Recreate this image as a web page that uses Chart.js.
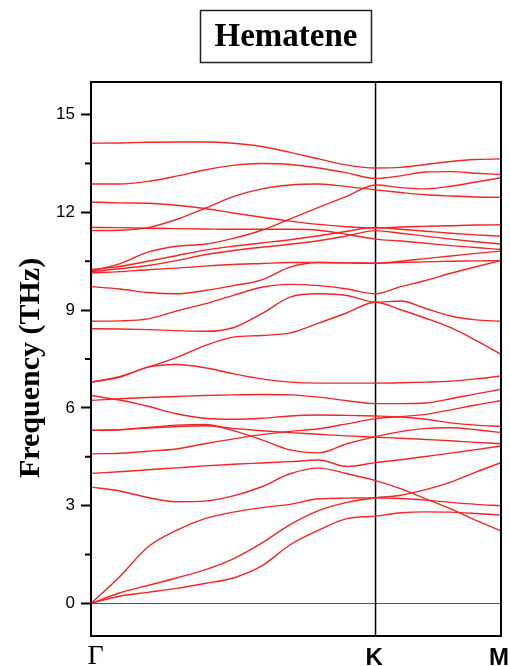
<!DOCTYPE html>
<html><head><meta charset="utf-8">
<script src="https://cdn.jsdelivr.net/npm/chart.js@4"></script>
<style>html,body{margin:0;padding:0;background:#fff;}</style>
</head><body>
<canvas id="c" width="510" height="666"></canvas>
<script>
// path coordinate of each sample (Γ = 0, K = 1, M = 1.4409)
const kDist = [0,0.1,0.2,0.3,0.4,0.5,0.6,0.7,0.8,0.9,1.0,1.0882,1.1764,1.2646,1.3527,1.4409];
const kTicks = [0, 1.0, 1.4409];
const kLabels = ['Γ','K','M'];
const yTicks = [0,3,6,9,12,15];
const yMinor = [1.5,4.5,7.5,10.5,13.5];
const chartTitle = 'Hematene';
const yTitle = 'Frequency (THz)';

// phonon branches (THz), sampled at kDist
const band01 = [14.12,14.13,14.15,14.16,14.16,14.12,14.02,13.84,13.64,13.45,13.36,13.38,13.47,13.56,13.62,13.64];
const band02 = [12.87,12.87,12.95,13.11,13.30,13.44,13.50,13.47,13.36,13.21,13.04,13.12,13.24,13.25,13.20,13.16];
const band03 = [10.20,10.42,10.78,10.96,11.02,11.20,11.45,11.80,12.15,12.50,12.84,12.76,12.72,12.80,12.93,13.06];
const band04 = [11.44,11.45,11.53,11.78,12.12,12.48,12.72,12.84,12.87,12.79,12.69,12.61,12.54,12.50,12.47,12.46];
const band05 = [12.32,12.29,12.28,12.22,12.12,11.98,11.85,11.73,11.63,11.56,11.52,11.55,11.57,11.59,11.61,11.62];
const band06 = [11.54,11.53,11.51,11.50,11.49,11.48,11.48,11.48,11.45,11.32,11.18,11.12,11.05,10.98,10.92,10.86];
const band07 = [10.24,10.34,10.50,10.67,10.84,10.96,11.06,11.16,11.28,11.42,11.54,11.48,11.42,11.36,11.31,11.27];
const band08 = [10.18,10.27,10.37,10.52,10.70,10.83,10.93,11.02,11.13,11.28,11.44,11.36,11.27,11.18,11.10,11.03];
const band09 = [10.14,10.18,10.24,10.29,10.35,10.40,10.43,10.46,10.46,10.45,10.44,10.46,10.48,10.50,10.51,10.52];
const band10 = [9.72,9.65,9.54,9.50,9.60,9.75,9.93,10.32,10.46,10.45,10.44,10.50,10.58,10.66,10.74,10.81];
const band11 = [8.66,8.67,8.73,8.97,9.19,9.45,9.70,9.79,9.75,9.65,9.50,9.72,9.91,10.13,10.33,10.52];
const band12 = [8.43,8.42,8.40,8.37,8.35,8.46,8.89,9.40,9.50,9.45,9.24,9.28,9.05,8.82,8.70,8.66];
const band13 = [6.79,6.96,7.25,7.54,7.91,8.17,8.22,8.30,8.60,8.92,9.24,9.01,8.75,8.46,8.07,7.64];
const band14 = [6.79,6.94,7.25,7.33,7.23,7.05,6.89,6.79,6.76,6.76,6.76,6.77,6.79,6.82,6.89,6.98];
const band15 = [6.23,6.28,6.32,6.35,6.38,6.40,6.41,6.40,6.33,6.22,6.13,6.13,6.15,6.28,6.43,6.57];
const band16 = [6.38,6.24,6.05,5.82,5.68,5.65,5.68,5.75,5.78,5.77,5.75,5.72,5.65,5.54,5.47,5.43];
const band17 = [4.59,4.61,4.67,4.74,4.90,5.05,5.18,5.28,5.36,5.51,5.67,5.73,5.80,5.94,6.09,6.22];
const band18 = [5.31,5.33,5.40,5.47,5.49,5.30,5.02,4.71,4.62,4.90,5.12,5.27,5.37,5.39,5.33,5.24];
const band19 = [5.31,5.33,5.38,5.43,5.45,5.37,5.30,5.24,5.19,5.14,5.10,5.07,5.03,4.99,4.94,4.90];
const band20 = [3.99,4.04,4.10,4.16,4.22,4.27,4.31,4.35,4.40,4.20,4.32,4.41,4.51,4.61,4.72,4.83];
const band21 = [3.57,3.45,3.25,3.12,3.14,3.30,3.58,3.98,4.15,3.98,3.77,3.52,3.21,2.90,2.55,2.23];
const band22 = [0,0.81,1.73,2.24,2.60,2.80,2.94,3.04,3.21,3.23,3.24,3.22,3.17,3.10,3.04,3.00];
const band23 = [0,0.32,0.55,0.78,1.03,1.37,1.85,2.42,2.85,3.10,3.24,3.32,3.49,3.72,4.03,4.32];
const band24 = [0,0.22,0.34,0.46,0.61,0.78,1.15,1.80,2.25,2.60,2.68,2.78,2.81,2.80,2.76,2.71];

const bands = [band01,band02,band03,band04,band05,band06,band07,band08,band09,band10,band11,band12,
               band13,band14,band15,band16,band17,band18,band19,band20,band21,band22,band23,band24];

const datasets = bands.map(b => ({
  data: b.map((v, i) => ({x: kDist[i], y: v})),
  borderColor: 'rgb(242,38,38)',
  borderWidth: 1.4,
  pointRadius: 0,
  fill: false,
  cubicInterpolationMode: 'monotone'
}));

const deco = {
  id: 'deco',
  beforeDatasetsDraw(chart) {
    const {ctx, chartArea: a, scales: {x, y}} = chart;
    ctx.save();
    ctx.strokeStyle = '#555';
    ctx.lineWidth = 1;
    const y0 = Math.round(y.getPixelForValue(0)) + 0.5;
    ctx.beginPath(); ctx.moveTo(a.left, y0); ctx.lineTo(a.right, y0); ctx.stroke();
    ctx.strokeStyle = '#000';
    ctx.lineWidth = 1.5;
    const xk = x.getPixelForValue(kTicks[1]);
    ctx.beginPath(); ctx.moveTo(xk, a.top); ctx.lineTo(xk, a.bottom); ctx.stroke();
    ctx.restore();
  },
  afterDraw(chart) {
    const {ctx, chartArea: a, scales: {x, y}} = chart;
    ctx.save();
    ctx.strokeStyle = '#000';
    ctx.lineWidth = 2;
    ctx.strokeRect(a.left, a.top, a.right - a.left, a.bottom - a.top);
    yMinor.forEach(v => {
      const py = y.getPixelForValue(v);
      ctx.beginPath(); ctx.moveTo(a.left - 6, py); ctx.lineTo(a.left, py); ctx.stroke();
    });
    ctx.fillStyle = '#000';
    ctx.textAlign = 'center';
    ctx.textBaseline = 'alphabetic';
    kTicks.forEach((v, i) => {
      const px = x.getPixelForValue(v);
      if (i === 0) {
        ctx.font = '28px "Liberation Serif"';
        ctx.fillText(kLabels[i], px + 4.5, 664);
      } else {
        ctx.font = 'bold 24px "Liberation Sans"';
        ctx.fillText(kLabels[i], px - (i === 2 ? 2 : 1.5), 665);
      }
    });
    ctx.save();
    ctx.translate(31, 368);
    ctx.rotate(-Math.PI / 2);
    ctx.font = 'bold 30px "Liberation Serif"';
    ctx.textBaseline = 'middle';
    ctx.fillText(yTitle, 0, 0);
    ctx.restore();
    ctx.lineWidth = 1.5;
    ctx.strokeStyle = '#222';
    ctx.strokeRect(200.5, 10.5, 171, 52);
    ctx.font = 'bold 33px "Liberation Serif"';
    ctx.textBaseline = 'alphabetic';
    ctx.fillText(chartTitle, 286, 46);
    ctx.restore();
  }
};

new Chart(document.getElementById('c'), {
  type: 'line',
  data: {datasets},
  options: {
    responsive: false,
    animation: false,
    events: [],
    plugins: {legend: {display: false}, tooltip: {enabled: false}, title: {display: false}},
    layout: {padding: {left: 0, right: 9, top: 82, bottom: 30}},
    scales: {
      x: {type: 'linear', min: 0, max: kDist[kDist.length - 1], display: false},
      y: {
        type: 'linear', min: -1, max: 16,
        afterFit(s) { s.width = 91; },
        afterBuildTicks(s) { s.ticks = yTicks.map(v => ({value: v})); },
        grid: {drawOnChartArea: false, drawTicks: true, tickLength: 10, tickWidth: 2, color: '#000'},
        border: {display: true, width: 2, color: '#000'},
        ticks: {padding: 6, color: '#000', font: {family: 'Liberation Sans', size: 17}}
      }
    }
  },
  plugins: [deco]
});
</script>
</body></html>
